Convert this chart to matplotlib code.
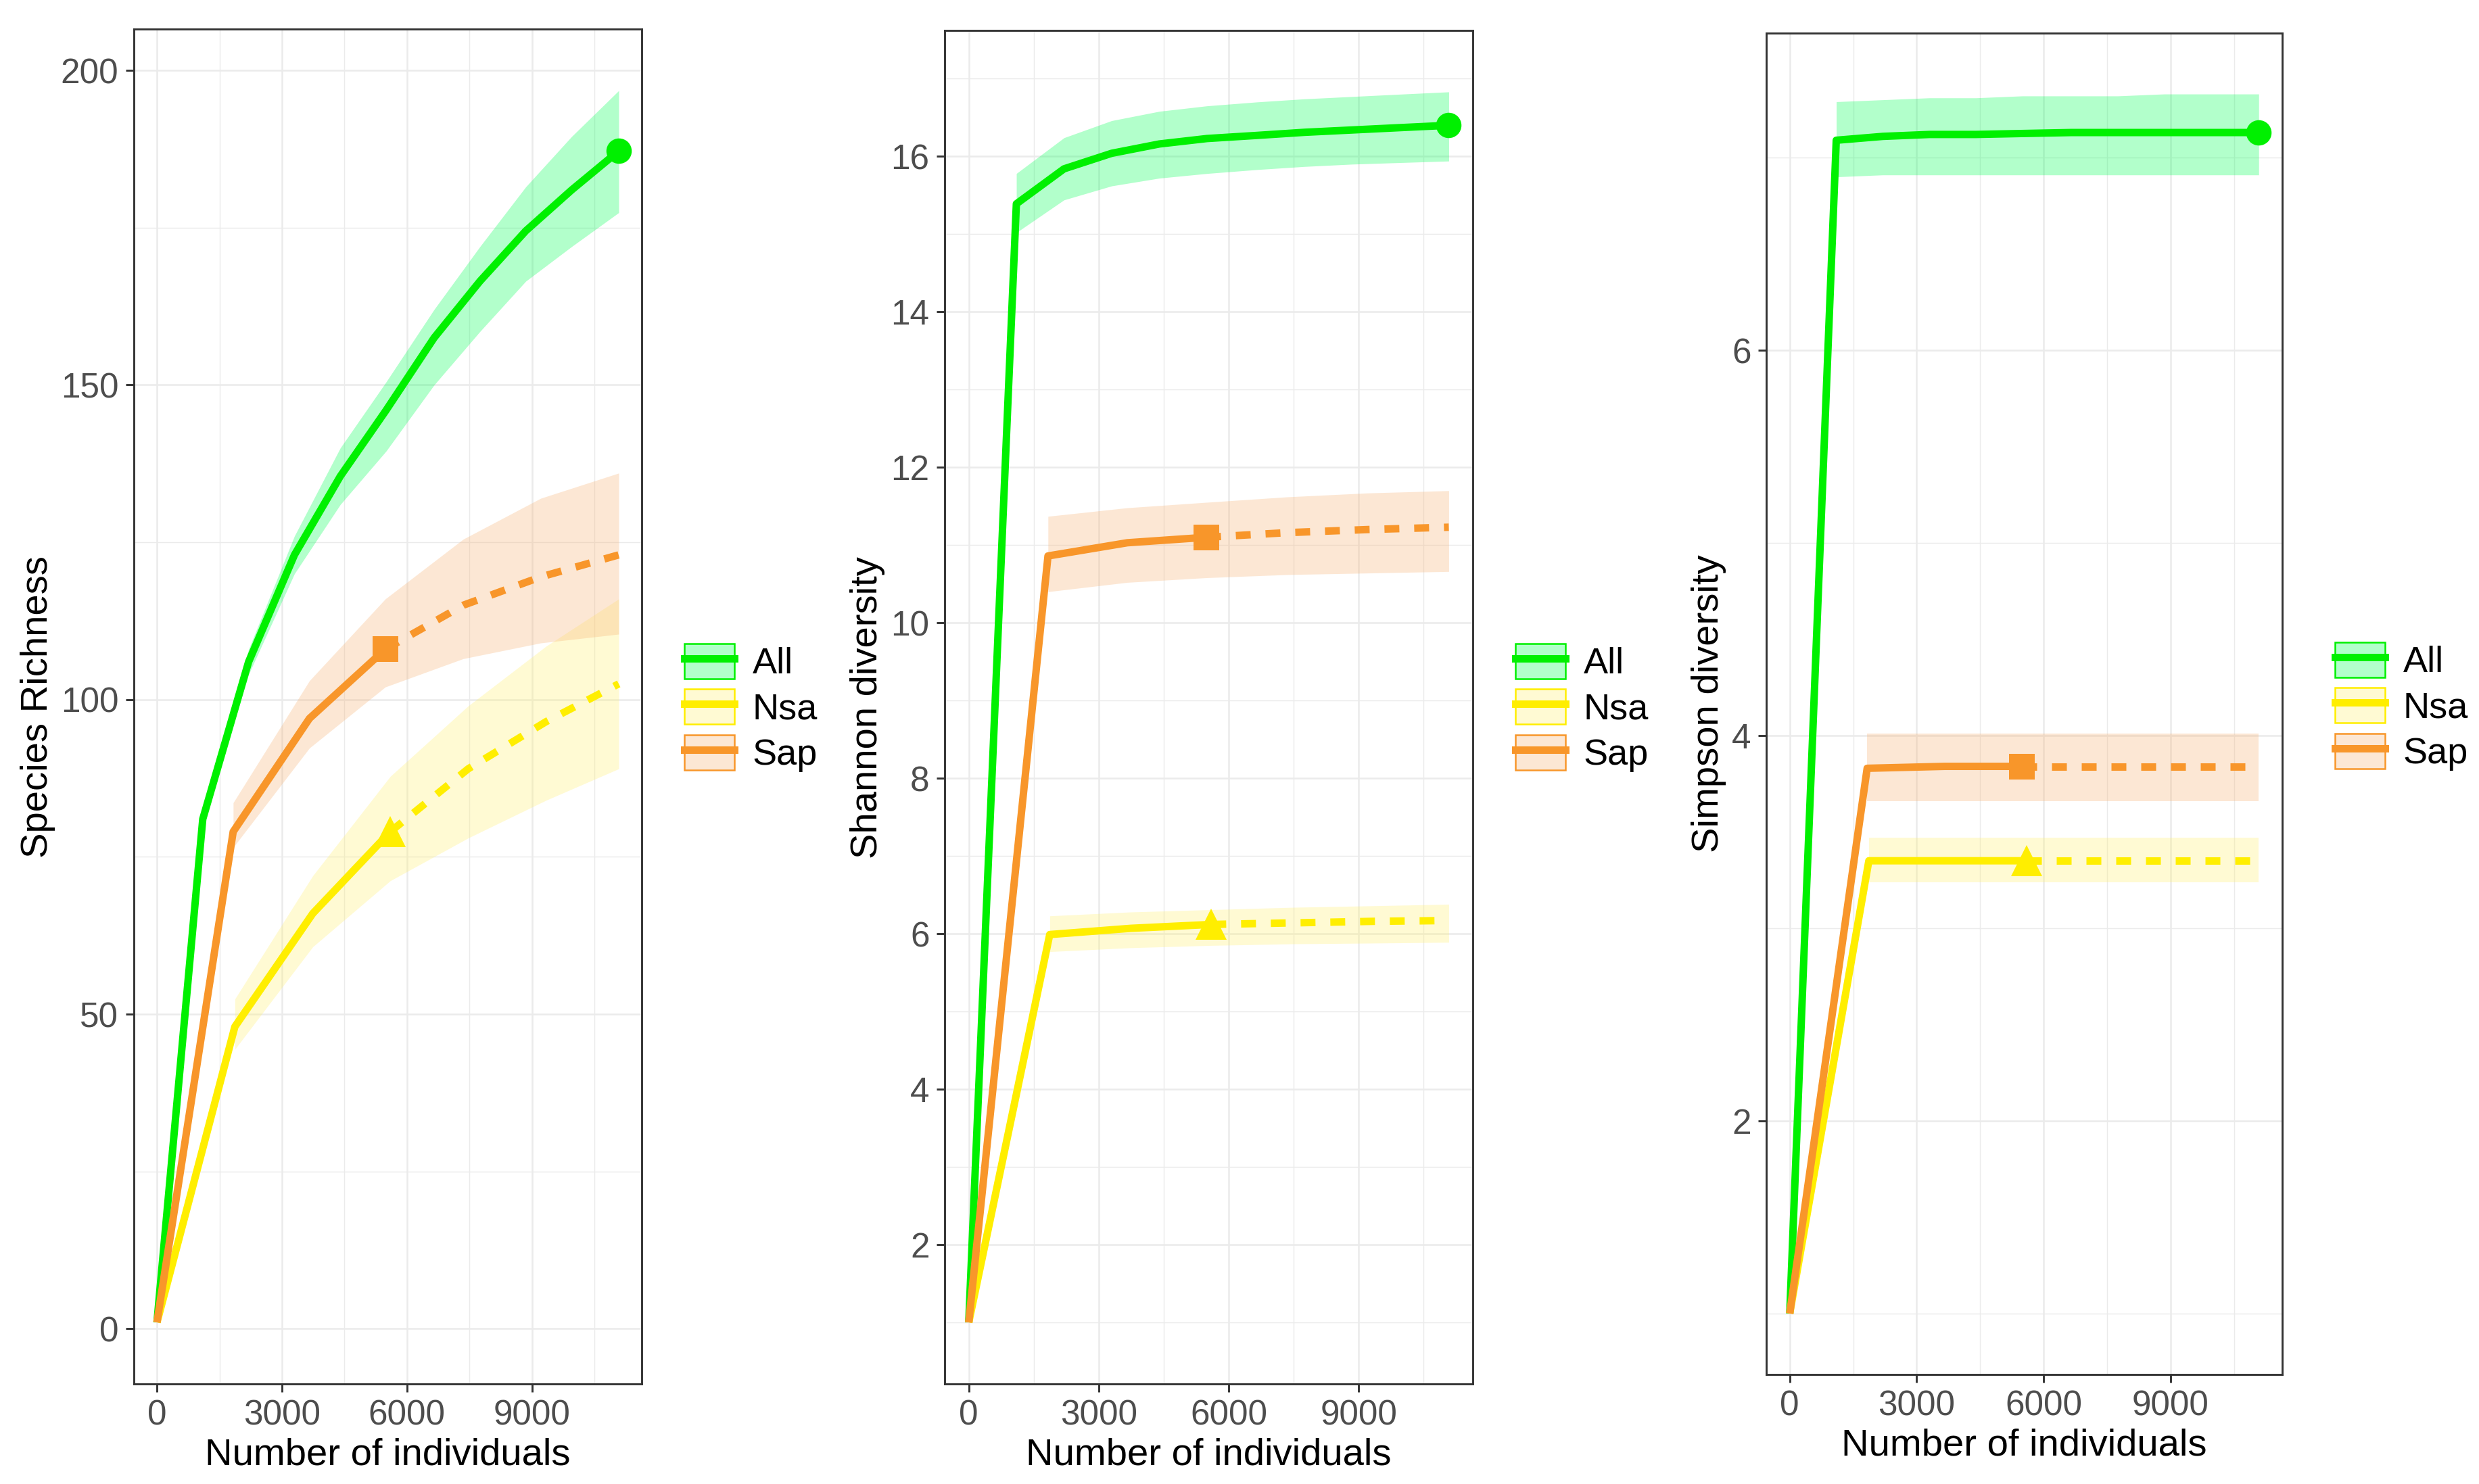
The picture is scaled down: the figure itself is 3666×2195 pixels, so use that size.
import matplotlib
matplotlib.use("Agg")
import matplotlib.pyplot as plt
from matplotlib.lines import Line2D
from matplotlib.patches import Patch
from matplotlib.colors import to_rgba

plt.rcParams['font.family'] = ['Liberation Sans', 'DejaVu Sans']

# sample sizes (knots)
n_all = [1, 1100, 2200, 3300, 4400, 5500, 6650, 7750, 8850, 9950, 11080]
n_nsa_int = [1, 1870, 3740, 5600]
n_nsa_ext = [5600, 7470, 9340, 11080]
n_sap_int = [1, 1830, 3660, 5480]
n_sap_ext = [5480, 7350, 9210, 11080]

groups = ['All', 'Nsa', 'Sap']

# species richness
rich_all = [1, 81, 106, 123, 135.5, 146, 157.5, 166.5, 174.5, 181, 187.2]
rich_all_lo = [80, 104, 120, 131, 139.5, 150, 158.5, 166.5, 172, 177.4]
rich_all_hi = [82, 108, 126, 140, 150.5, 162, 172, 181.5, 189.5, 196.8]
rich_nsa_int = [1, 48, 66, 79]
rich_nsa_ext = [79, 89, 96.5, 102.5]
rich_nsa_lo = [44.4, 60.7, 71.2, 78, 84, 89]
rich_nsa_hi = [52.4, 72, 87.8, 99, 108.5, 116]
rich_sap_int = [1, 79, 97, 108]
rich_sap_ext = [108, 115, 119.5, 123]
rich_sap_lo = [76.5, 92.3, 102, 106.5, 109, 110.4]
rich_sap_hi = [83.6, 103, 116, 125.5, 132, 136]

# shannon diversity
shan_all = [1, 15.39, 15.84, 16.04, 16.16, 16.23, 16.27, 16.31, 16.34, 16.37, 16.40]
shan_all_lo = [15.02, 15.44, 15.62, 15.72, 15.78, 15.83, 15.87, 15.90, 15.92, 15.94]
shan_all_hi = [15.78, 16.24, 16.46, 16.58, 16.65, 16.70, 16.74, 16.77, 16.80, 16.83]
shan_nsa_int = [1, 5.99, 6.07, 6.12]
shan_nsa_ext = [6.12, 6.14, 6.16, 6.17]
shan_nsa_lo = [5.77, 5.82, 5.85, 5.87, 5.88, 5.89]
shan_nsa_hi = [6.23, 6.28, 6.31, 6.34, 6.36, 6.38]
shan_sap_int = [1, 10.86, 11.03, 11.10]
shan_sap_ext = [11.10, 11.16, 11.20, 11.23]
shan_sap_lo = [10.40, 10.52, 10.58, 10.62, 10.64, 10.66]
shan_sap_hi = [11.37, 11.48, 11.55, 11.62, 11.67, 11.70]

# simpson diversity
simp_all = [1, 7.09, 7.11, 7.12, 7.12, 7.125, 7.13, 7.13, 7.13, 7.13, 7.13]
simp_all_lo = [6.90, 6.91, 6.91, 6.91, 6.91, 6.91, 6.91, 6.91, 6.91, 6.91]
simp_all_hi = [7.29, 7.30, 7.31, 7.31, 7.32, 7.32, 7.32, 7.33, 7.33, 7.33]
simp_nsa_int = [1, 3.35, 3.35, 3.35]
simp_nsa_ext = [3.35, 3.35, 3.35, 3.35]
simp_nsa_lo = [3.24, 3.24, 3.24, 3.24, 3.24, 3.24]
simp_nsa_hi = [3.47, 3.47, 3.47, 3.47, 3.47, 3.47]
simp_sap_int = [1, 3.83, 3.84, 3.84]
simp_sap_ext = [3.84, 3.84, 3.84, 3.84]
simp_sap_lo = [3.66, 3.66, 3.66, 3.66, 3.66, 3.66]
simp_sap_hi = [4.01, 4.01, 4.01, 4.01, 4.01, 4.01]

line_col = {'All': '#00F000', 'Nsa': '#FFEE00', 'Sap': '#F8962A'}
fill_col = {'All': '#00FF55', 'Nsa': '#FFF070', 'Sap': '#F8B273'}
markers = {'All': 'o', 'Nsa': '^', 'Sap': 's'}
msize = {'All': 9, 'Nsa': 11, 'Sap': 9}
LW = 2.64


def draw_panel(ax, ylab, yticks, yminor, all_y, all_lo, all_hi,
               nsa_int, nsa_ext, nsa_lo, nsa_hi,
               sap_int, sap_ext, sap_lo, sap_hi):
    # ribbons
    ax.fill_between(n_all[1:], all_lo, all_hi, color=fill_col['All'], alpha=0.3, lw=0)
    ax.fill_between(n_nsa_int[1:] + n_nsa_ext[1:], nsa_lo, nsa_hi,
                    color=fill_col['Nsa'], alpha=0.3, lw=0)
    ax.fill_between(n_sap_int[1:] + n_sap_ext[1:], sap_lo, sap_hi,
                    color=fill_col['Sap'], alpha=0.3, lw=0)
    # curves
    ax.plot(n_all, all_y, color=line_col['All'], lw=LW, solid_capstyle='butt')
    ax.plot(n_nsa_int, nsa_int, color=line_col['Nsa'], lw=LW, solid_capstyle='butt')
    ax.plot(n_nsa_ext, nsa_ext, color=line_col['Nsa'], lw=LW, ls=(0, (2, 2)))
    ax.plot(n_sap_int, sap_int, color=line_col['Sap'], lw=LW, solid_capstyle='butt')
    ax.plot(n_sap_ext, sap_ext, color=line_col['Sap'], lw=LW, ls=(0, (2, 2)))
    # observed points
    ax.plot(n_all[-1], all_y[-1], marker=markers['All'], ms=msize['All'],
            color=line_col['All'], mew=0)
    ax.plot(n_nsa_int[-1], nsa_int[-1], marker=markers['Nsa'], ms=msize['Nsa'],
            color=line_col['Nsa'], mew=0)
    ax.plot(n_sap_int[-1], sap_int[-1], marker=markers['Sap'], ms=msize['Sap'],
            color=line_col['Sap'], mew=0)

    # ggplot-like 5% expansion
    xs = n_all
    x0, x1 = min(xs), max(xs)
    ys = all_y + all_hi + all_lo + nsa_hi + sap_hi
    y0, y1 = min(ys), max(ys)
    ax.set_xlim(x0 - 0.05 * (x1 - x0), x1 + 0.05 * (x1 - x0))
    ax.set_ylim(y0 - 0.05 * (y1 - y0), y1 + 0.05 * (y1 - y0))

    ax.set_xticks([0, 3000, 6000, 9000])
    ax.set_xticks([1500, 4500, 7500, 10500], minor=True)
    ax.set_yticks(yticks)
    ax.set_yticks(yminor, minor=True)
    ax.grid(which='major', color='#EBEBEB', lw=0.6)
    ax.grid(which='minor', color='#EBEBEB', lw=0.35)
    ax.set_axisbelow(True)
    ax.tick_params(which='major', length=2.9, width=0.7, color='#333333',
                   labelsize=12.3, labelcolor='#4D4D4D', pad=2.5)
    ax.tick_params(which='minor', length=0)
    for s in ax.spines.values():
        s.set_color('#333333')
        s.set_linewidth(0.7)
    ax.set_xlabel('Number of individuals', fontsize=13.5, labelpad=2)
    ax.set_ylabel(ylab, fontsize=13.5, labelpad=2)


def add_legend(fig, x, y):
    handles = []
    for g in groups:
        p = Patch(facecolor=to_rgba(fill_col[g], 0.3), edgecolor=line_col[g], lw=0.6)
        l = Line2D([], [], color=line_col[g], lw=LW)
        handles.append((p, l))
    fig.legend(handles, groups, loc='upper left', bbox_to_anchor=(x, y),
               bbox_transform=fig.transFigure, frameon=False, fontsize=13,
               handlelength=1.36, handleheight=1.1, handletextpad=0.5,
               labelspacing=0.22, borderpad=0, borderaxespad=0)


fig = plt.figure(figsize=(12.22, 7.317), dpi=300)
ax1 = fig.add_axes([0.0540, 0.0674, 0.2049, 0.9130])
ax2 = fig.add_axes([0.3811, 0.0674, 0.2130, 0.9121])
ax3 = fig.add_axes([0.7125, 0.0738, 0.2081, 0.9039])

draw_panel(ax1, 'Species Richness', [0, 50, 100, 150, 200], [25, 75, 125, 175],
           rich_all, rich_all_lo, rich_all_hi,
           rich_nsa_int, rich_nsa_ext, rich_nsa_lo, rich_nsa_hi,
           rich_sap_int, rich_sap_ext, rich_sap_lo, rich_sap_hi)
draw_panel(ax2, 'Shannon diversity', [2, 4, 6, 8, 10, 12, 14, 16],
           [1, 3, 5, 7, 9, 11, 13, 15, 17],
           shan_all, shan_all_lo, shan_all_hi,
           shan_nsa_int, shan_nsa_ext, shan_nsa_lo, shan_nsa_hi,
           shan_sap_int, shan_sap_ext, shan_sap_lo, shan_sap_hi)
draw_panel(ax3, 'Simpson diversity', [2, 4, 6], [1, 3, 5, 7],
           simp_all, simp_all_lo, simp_all_hi,
           simp_nsa_int, simp_nsa_ext, simp_nsa_lo, simp_nsa_hi,
           simp_sap_int, simp_sap_ext, simp_sap_lo, simp_sap_hi)

add_legend(fig, 1012 / 3666, 1 - 952 / 2195)
add_legend(fig, 2241 / 3666, 1 - 952 / 2195)
add_legend(fig, 3453 / 3666, 1 - 950 / 2195)

fig.savefig('out.png', dpi=300)
